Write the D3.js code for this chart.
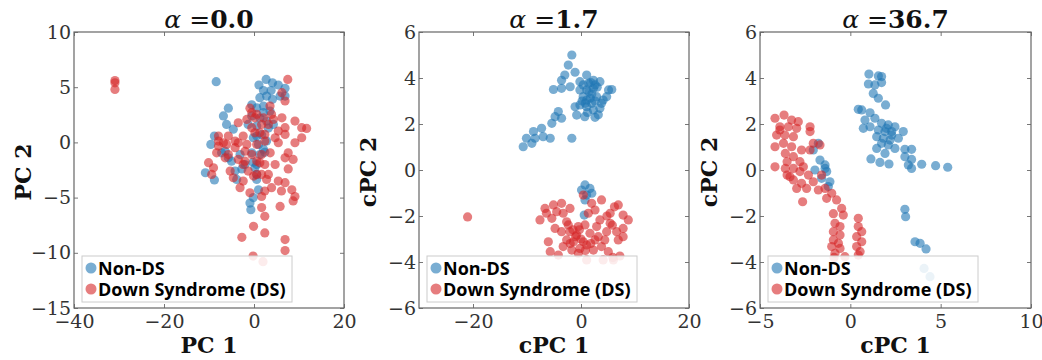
<!DOCTYPE html>
<html><head><meta charset="utf-8">
<script src="https://cdn.jsdelivr.net/npm/d3@7"></script>
<style>body{margin:0;background:#fff}svg{display:block}</style>
</head><body>
<script>
// ---------- data ----------
const seriesNames = ["Non-DS", "Down Syndrome (DS)"];
const alphaValues = ["0.0", "1.7", "36.7"];
const xLabels = ["PC 1", "cPC 1", "cPC 1"];
const yLabels = ["PC 2", "cPC 2", "cPC 2"];
const xTicks1 = [-40, -20, 0, 20], yTicks1 = [-15, -10, -5, 0, 5, 10];
const xTicks2 = [-20, 0, 20], yTicks2 = [-6, -4, -2, 0, 2, 4, 6];
const xTicks3 = [-5, 0, 5, 10], yTicks3 = [-6, -4, -2, 0, 2, 4, 6];

const p1NonDS = [[-8.4,5.5],[2.7,5.7],[1.1,5.2],[4.1,5.4],[5.4,5.2],[6.9,4.9],[2.1,4.7],[3.8,4.7],[6.9,4.2],[5.8,4.2],[1.3,4.05],[2.8,4.2],[4.1,3.9],[-0.5,3.4],[-5.7,3.1],[-6.8,2.4],[-6.1,1.63],[-4.6,1.2],[-8.8,0.57],[-9.6,-0.18],[-10.8,-2.75],[-8.8,-3.4],[-4.2,-2.6],[-3.85,-3.35],[0.6,-3.35],[0.2,-2.3],[1.0,-4.3],[-0.15,-5.0],[-0.7,-6.1],[0.6,-2.0],[2.1,-0.63],[2.4,-0.9],[1.0,-0.18],[-0.15,0.42],[1.7,0.7],[0.6,1.48],[2.1,2.7],[3.56,2.84],[0.6,3.14],[-0.5,2.4],[3.2,1.3],[-6.4,-0.8],[-5.0,-1.7],[-2.0,-2.0],[-3.1,-1.1],[1.3,2.2],[-7.2,-0.94],[-1.3,1.63],[2.8,0.12],[-2.7,-2.4],[-0.9,-5.5],[-0.2,-1.8],[2.1,3.29],[0.6,0.57],[1.3,-1.1],[-0.5,-0.94],[2.8,1.93],[4.3,1.63],[-5.7,-1.4],[0.6,-2.9]];
const p1DS = [[7.5,5.7],[6.9,3.75],[6.2,4.5],[-0.9,3.1],[3.56,3.29],[-3.5,1.78],[-1.6,2.08],[0.2,2.23],[2.1,2.23],[4.3,2.08],[6.2,2.23],[9.1,1.93],[10.6,1.33],[11.7,1.27],[6.9,1.33],[5.4,1.03],[6.9,0.72],[4.7,0.42],[10.6,0.42],[9.1,-0.03],[-7.9,0.57],[-6.8,-0.03],[-2.4,0.57],[0.2,0.87],[2.4,0.72],[-1.6,-0.18],[0.6,-0.18],[-7.9,-0.33],[-4.2,-0.48],[-5.7,-1.1],[-8.3,-0.94],[-10.1,-1.84],[-9.0,-2.3],[-9.4,-2.9],[-5.3,-2.6],[-2.4,-2.0],[-3.5,-1.54],[0.6,-1.69],[2.4,-2.0],[4.7,-2.0],[6.9,-1.4],[8.7,-1.54],[7.6,-2.4],[3.2,-2.9],[5.4,-3.5],[6.9,-3.65],[0.6,-2.9],[-2.4,-3.5],[-3.1,-4.1],[-0.9,-4.56],[1.7,-4.9],[2.4,-4.4],[3.9,-4.1],[6.1,-4.4],[8.4,-4.3],[9.1,-4.9],[8.7,-5.3],[5.8,-5.8],[1.7,-5.9],[2.4,-6.7],[-0.1,-7.6],[2.4,-8.2],[-2.7,-8.6],[6.9,-8.8],[6.9,-9.8],[-0.2,-10.3],[2.0,-10.8],[-5.7,0.57],[-0.5,1.33],[1.3,0.87],[3.2,1.63],[-2.0,-0.8],[-0.5,-1.1],[1.7,-1.1],[3.6,-0.94],[-1.3,-2.6],[-0.1,-3.05],[1.7,-2.9],[-4.6,-3.2],[-6.4,-1.4],[-4.2,0.12],[-0.5,2.69],[1.7,1.63],[0.6,2.54],[3.9,2.54],[2.4,0.12],[-2.0,-1.7],[1.3,-1.85],[2.8,-3.35],[-3.5,-0.03],[-6.1,-0.18],[-7.9,0.12],[5.4,-0.03],[7.6,-0.94],[-30.9,5.6],[-30.9,5.4],[-30.9,4.8]];

const p2NonDS = [[-1.7,5.0],[-2.35,4.56],[-1.1,4.25],[-3.0,4.13],[-3.6,3.9],[-5.1,3.5],[-3.6,3.55],[-2.0,3.62],[-0.2,3.84],[1.05,4.13],[2.3,3.9],[3.5,3.84],[5.1,3.48],[5.7,3.5],[-0.2,3.48],[1.05,3.48],[2.3,3.55],[0.4,3.19],[1.7,3.12],[2.9,3.19],[4.1,3.04],[-0.2,2.83],[1.05,2.75],[2.3,2.61],[3.5,2.68],[-1.1,2.75],[-0.8,2.39],[0.7,2.32],[2.6,2.29],[-4.2,2.54],[-4.8,2.32],[-3.6,2.25],[-5.4,2.03],[-7.3,1.81],[-8.8,1.67],[-7.0,1.45],[-8.5,1.38],[-10.1,1.38],[-10.7,1.01],[-5.7,1.38],[-1.7,1.38],[-9.1,1.16],[1.05,3.04],[2.0,2.9],[1.4,3.77],[2.6,3.7],[0.4,3.7],[4.75,3.19],[1.5,3.4],[2.0,3.3],[0.8,2.9],[3.0,3.6],[1.8,3.8],[0.2,3.0],[2.6,3.0],[1.2,2.5],[3.8,2.9],[3.2,2.4],[0.74,-0.65],[0.1,-0.87],[1.66,-0.8],[1.05,-1.09],[2.0,-1.01],[0.74,-1.3],[0.6,-1.96]];
const p2DS = [[0.43,-1.09],[3.8,-1.3],[1.97,-1.45],[-6.67,-1.67],[-5.1,-1.52],[-3.6,-1.45],[-2.04,-1.67],[-7.6,-2.17],[-5.4,-2.1],[-4.8,-2.54],[-2.66,-2.25],[1.35,-1.88],[3.5,-2.17],[5.4,-1.88],[6.9,-1.52],[7.8,-1.96],[8.76,-2.17],[5.4,-2.32],[6.6,-2.68],[7.8,-2.54],[6.9,-3.04],[4.75,-2.68],[3.2,-2.9],[3.8,-3.33],[5.06,-3.55],[7.2,-3.74],[6.0,-3.91],[4.1,-3.91],[1.05,-3.91],[2.3,-3.48],[0.43,-3.12],[-0.8,-2.83],[-2.04,-2.68],[-2.66,-3.04],[-3.3,-3.33],[-1.7,-3.48],[-0.2,-3.41],[1.05,-3.26],[-6.05,-3.12],[-5.7,-3.55],[-4.2,-3.7],[1.66,-2.75],[2.9,-2.46],[-0.5,-2.46],[-3.6,-2.68],[-1.4,-3.12],[0.74,-2.39],[-3.3,-1.88],[-6.4,-1.88],[2.6,-1.74],[7.8,-2.9],[-0.5,-3.62],[-2.35,-2.39],[-4.5,-1.81],[4.4,-3.04],[2.6,-3.04],[-1.0,-2.9],[0.0,-3.0],[-1.5,-2.6],[1.8,-3.2],[-2.0,-3.2],[-0.3,-2.6],[0.8,-3.5],[4.8,-2.0],[5.8,-2.4],[6.2,-1.6],[5.9,-3.8],[-21.0,-2.04]];

const p3NonDS = [[-2.05,0.87],[-1.77,1.16],[-1.96,0.0],[-1.4,0.22],[-1.31,-0.07],[-1.59,-0.36],[-1.22,-0.72],[-1.13,-0.51],[-1.4,0.07],[-1.68,0.43],[1.03,4.17],[1.55,4.09],[1.73,4.06],[1.0,3.74],[1.36,3.7],[1.73,3.8],[1.27,3.33],[1.55,3.12],[1.95,2.83],[0.44,2.64],[0.63,2.61],[1.09,2.49],[0.81,2.17],[1.36,2.25],[1.73,2.03],[2.1,1.96],[2.47,1.88],[0.72,1.81],[1.09,1.88],[1.55,1.74],[1.92,1.67],[2.29,1.67],[2.93,1.67],[1.46,1.45],[1.83,1.38],[2.2,1.3],[2.66,1.38],[1.73,1.16],[2.1,1.09],[2.47,0.94],[1.46,0.94],[3.02,0.9],[3.39,0.9],[1.92,0.72],[3.02,0.58],[3.39,0.46],[1.14,0.48],[1.64,0.33],[2.14,0.26],[3.21,0.22],[3.39,0.07],[3.95,0.25],[4.72,0.19],[5.39,0.12],[3.02,-1.71],[3.06,-2.03],[3.58,-3.12],[3.86,-3.19],[4.19,-3.43],[4.08,-4.28],[4.41,-4.64],[2.29,1.52],[2.0,1.81]];
const p3DS = [[-4.17,2.25],[-3.67,2.39],[-3.25,2.17],[-2.88,2.1],[-3.9,1.88],[-3.43,1.88],[-2.97,1.81],[-2.23,1.88],[-2.23,1.67],[-4.08,1.52],[-3.62,1.52],[-3.15,1.45],[-2.05,1.16],[-1.68,1.09],[-4.17,1.01],[-3.7,1.16],[-3.25,1.01],[-2.7,0.87],[-2.23,0.87],[-3.6,0.72],[-3.15,0.58],[-3.5,0.36],[-2.79,0.36],[-4.17,0.14],[-3.6,0.07],[-3.15,0.07],[-2.6,0.14],[-2.32,-0.22],[-2.79,-0.07],[-3.5,-0.22],[-3.15,-0.43],[-2.05,-0.51],[-2.7,-0.58],[-2.97,-0.8],[-2.42,-0.8],[-1.77,-0.87],[-1.4,-0.8],[-1.03,-1.01],[-0.76,-1.3],[-0.48,-1.67],[-0.39,-1.96],[-0.94,-1.9],[-0.85,-2.32],[-0.57,-2.46],[-0.94,-2.68],[-0.57,-2.83],[-0.94,-3.04],[-0.66,-3.19],[-1.03,-3.33],[-0.57,-3.41],[-0.85,-3.62],[-0.3,-3.77],[0.44,-2.1],[0.44,-2.46],[0.63,-2.68],[0.35,-2.9],[0.63,-3.12],[0.35,-3.33],[0.54,-3.55],[0.44,-3.7],[-0.9,-3.8],[-1.59,-0.22],[-3.34,-0.29],[-3.9,1.74],[-1.31,-1.23],[-2.64,-1.38]];

// ---------- layout ----------
const W = 1042, H = 360;
const colors = ["#1f77b4", "#d62728"];
const panels = [
  {left: 74, right: 344, xd: [-40, 20], yd: [-15, 10], xt: xTicks1, yt: yTicks1, data: [p1NonDS, p1DS]},
  {left: 419, right: 689, xd: [-30, 20], yd: [-6, 6], xt: xTicks2, yt: yTicks2, data: [p2NonDS, p2DS]},
  {left: 760, right: 1031, xd: [-5, 10], yd: [-6, 6], xt: xTicks3, yt: yTicks3, data: [p3NonDS, p3DS]}
];
const plotTop = 32, plotBottom = 308;
const serif = "'DejaVu Serif', serif";

const svg = d3.select("body").append("svg").attr("width", W).attr("height", H);
svg.append("rect").attr("width", W).attr("height", H).attr("fill", "#fff");

panels.forEach((p, i) => {
  const x = d3.scaleLinear().domain(p.xd).range([p.left, p.right]);
  const y = d3.scaleLinear().domain(p.yd).range([plotBottom, plotTop]);
  const g = svg.append("g");
  const clipId = "clip" + i;
  g.append("clipPath").attr("id", clipId).append("rect")
    .attr("x", p.left).attr("y", plotTop).attr("width", p.right - p.left).attr("height", plotBottom - plotTop);

  // points
  const pts = g.append("g").attr("clip-path", `url(#${clipId})`);
  p.data.forEach((ser, si) => {
    pts.selectAll(null).data(ser).enter().append("circle")
      .attr("cx", d => x(d[0])).attr("cy", d => y(d[1])).attr("r", 4.6)
      .attr("fill", colors[si]).attr("fill-opacity", 0.6);
  });

  // axes (inward ticks on all sides)
  const fmt = d3.format("d");
  const axB = d3.axisBottom(x).tickValues(p.xt).tickFormat(fmt).tickSizeInner(-4).tickSizeOuter(0).tickPadding(7);
  const axT = d3.axisTop(x).tickValues(p.xt).tickFormat("").tickSizeInner(-4).tickSizeOuter(0);
  const axL = d3.axisLeft(y).tickValues(p.yt).tickFormat(fmt).tickSizeInner(-4).tickSizeOuter(0).tickPadding(3);
  const axR = d3.axisRight(y).tickValues(p.yt).tickFormat("").tickSizeInner(-4).tickSizeOuter(0);
  const styleAx = sel => {
    sel.select(".domain").remove();
    sel.selectAll(".tick line").attr("stroke", "#777");
    sel.selectAll(".tick text").attr("font-family", serif).attr("font-size", 19).attr("fill", "#333");
  };
  g.append("g").attr("transform", `translate(0,${plotBottom})`).call(axB).call(styleAx);
  g.append("g").attr("transform", `translate(0,${plotTop})`).call(axT).call(styleAx);
  g.append("g").attr("transform", `translate(${p.left},0)`).call(axL).call(styleAx);
  g.append("g").attr("transform", `translate(${p.right},0)`).call(axR).call(styleAx);

  g.append("rect").attr("x", p.left).attr("y", plotTop).attr("width", p.right - p.left).attr("height", plotBottom - plotTop)
    .attr("fill", "none").attr("stroke", "#666").attr("stroke-width", 1.2);

  const cx = (p.left + p.right) / 2;
  // title
  const t = g.append("text").attr("x", cx).attr("y", 28).attr("text-anchor", "middle")
    .attr("font-family", serif).attr("font-size", 25).attr("fill", "#111");
  t.append("tspan").attr("font-style", "italic").text("α");
  t.append("tspan").text(" =");
  t.append("tspan").attr("font-weight", "bold").text(alphaValues[i]);

  // axis labels
  g.append("text").attr("x", cx).attr("y", 353).attr("text-anchor", "middle")
    .attr("font-family", serif).attr("font-weight", "bold").attr("font-size", 22).attr("fill", "#111").text(xLabels[i]);
  const ylx = p.left - 43;
  g.append("text").attr("transform", `translate(${ylx},172) rotate(-90)`).attr("text-anchor", "middle")
    .attr("font-family", serif).attr("font-weight", "bold").attr("font-size", 22).attr("fill", "#111").text(yLabels[i]);

  // legend
  const lx = p.left + 8, ly = 256, lw = 210, lh = 46;
  const lg = g.append("g");
  lg.append("rect").attr("x", lx).attr("y", ly).attr("width", lw).attr("height", lh)
    .attr("fill", "#fff").attr("fill-opacity", 0.85).attr("stroke", "#ccc").attr("stroke-width", 1);
  seriesNames.forEach((nm, si) => {
    const yy = ly + 12 + si * 21;
    lg.append("circle").attr("cx", lx + 9).attr("cy", yy).attr("r", 5.5)
      .attr("fill", colors[si]).attr("fill-opacity", 0.6);
    lg.append("text").attr("x", lx + 16).attr("y", yy + 7)
      .attr("font-family", "'Open Sans', 'Lato', sans-serif").attr("font-weight", "bold")
      .attr("font-size", 18).attr("fill", "#000").text(nm);
  });
});
</script>
</body></html>
